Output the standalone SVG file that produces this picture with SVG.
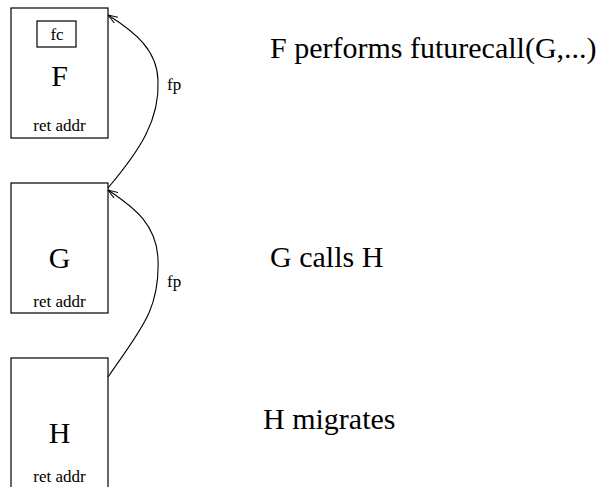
<svg xmlns="http://www.w3.org/2000/svg" width="606" height="487" viewBox="0 0 606 487">
<style>
.box{fill:#fff;stroke:#000;stroke-width:1.2}
.big{font-family:"Liberation Serif","Times New Roman",serif;font-size:30px;fill:#000}
.sm{font-family:"Liberation Serif","Times New Roman",serif;font-size:17px;fill:#000}
.mid{text-anchor:middle}
.edge{fill:none;stroke:#000;stroke-width:1.1}
</style>
<defs>
<marker id="arr" viewBox="0 0 10 8" refX="10" refY="4" markerWidth="10" markerHeight="8" markerUnits="userSpaceOnUse" orient="auto">
<path d="M0,0.5 L10,4 L0,7.5" fill="none" stroke="#000" stroke-width="1"/>
</marker>
</defs>
<rect width="606" height="487" fill="#fff"/>
<g id="F">
<rect class="box" x="11" y="8" width="97" height="130"/>
<rect class="box" x="37" y="21" width="39" height="26"/>
<text class="sm mid" x="57" y="40">fc</text>
<text class="big mid" x="59.5" y="86">F</text>
<text class="sm mid" x="59.5" y="131">ret addr</text>
</g>
<g id="G">
<rect class="box" x="11" y="183" width="97" height="130"/>
<text class="big mid" x="59.5" y="268">G</text>
<text class="sm mid" x="59.5" y="307">ret addr</text>
</g>
<g id="H">
<rect class="box" x="11" y="358" width="97" height="132"/>
<text class="big mid" x="59.5" y="443">H</text>
<text class="sm mid" x="59.5" y="482">ret addr</text>
</g>
<g id="connectors">
<path class="edge" d="M108,188 C140,150 160,120 158,80 C157,50 135,32 108,15" marker-end="url(#arr)"/>
<path class="edge" d="M108,377 C140,330 160,310 158,260 C157,225 135,208 108,190" marker-end="url(#arr)"/>
<text class="sm" x="167" y="90">fp</text>
<text class="sm" x="167" y="287">fp</text>
</g>
<g id="captions">
<text class="big" x="270" y="58">F performs futurecall(G,...)</text>
<text class="big" x="270" y="267">G calls H</text>
<text class="big" x="263" y="429">H migrates</text>
</g>
</svg>
